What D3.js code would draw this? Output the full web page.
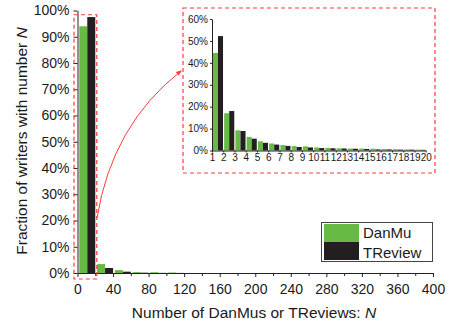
<!DOCTYPE html>
<html>
<head>
<meta charset="utf-8">
<script src="https://cdn.jsdelivr.net/npm/d3@7"></script>
<style>
  body { margin: 0; background: #fff; }
  svg { display: block; font-family: "Liberation Sans", Arial, sans-serif; }
  .axis text { fill: #1a1a1a; }
  .axis path, .axis line { stroke: #222; }
</style>
</head>
<body>
<div id="chart"></div>
<script>
// main histogram: bins of width 20 (bin start values)
var mainBins = [0, 20, 40, 60, 80, 100, 120, 140, 160, 180, 200, 220, 240, 260, 280, 300, 320, 340, 360, 380];
var mainDanMu = [94.0, 3.4, 1.1, 0.35, 0.3, 0.2, 0, 0, 0, 0, 0, 0, 0, 0, 0, 0, 0, 0, 0, 0];
var mainTReview = [97.5, 1.9, 0.5, 0.12, 0.05, 0.03, 0, 0, 0, 0, 0, 0, 0, 0, 0, 0, 0, 0, 0, 0];

// inset: N = 1..19
var insetN = [1, 2, 3, 4, 5, 6, 7, 8, 9, 10, 11, 12, 13, 14, 15, 16, 17, 18, 19];
var insetDanMu = [44.5, 17.0, 9.2, 6.2, 4.2, 3.2, 2.5, 2.0, 1.9, 1.4, 1.2, 1.0, 0.9, 0.9, 0.8, 0.7, 0.6, 0.5, 0.4];
var insetTReview = [52.2, 18.0, 8.9, 5.4, 3.5, 2.7, 2.1, 1.6, 1.4, 1.1, 1.0, 0.9, 0.8, 0.7, 0.5, 0.5, 0.4, 0.4, 0.3];

var seriesNames = ["DanMu", "TReview"];
var colors = { DanMu: "#67bb45", TReview: "#231f20" };
var red = "#ff3b3b";

var width = 455, height = 327;

var svg = d3.select("#chart")
  .append("svg")
  .attr("width", width)
  .attr("height", height);

// ---------- main chart ----------
var x = d3.scaleLinear().domain([0, 400]).range([77.5, 433]);
var y = d3.scaleLinear().domain([0, 100]).range([273, 10.5]);

function pairs(starts, a, b, w) {
  var out = [];
  starts.forEach(function (s, i) {
    out.push({ start: s, w: w, key: "DanMu", v: a[i] });
    out.push({ start: s, w: w, key: "TReview", v: b[i] });
  });
  return out;
}

var mainData = pairs(mainBins, mainDanMu, mainTReview, 20);
var sub = d3.scaleBand().domain(seriesNames).range([0.1, 1.0]);

svg.append("g").selectAll("rect")
  .data(mainData.filter(function (d) { return d.v > 0; }))
  .join("rect")
  .attr("x", function (d) { return x(d.start) + sub(d.key) * (x(d.w) - x(0)); })
  .attr("width", function (d) { return sub.bandwidth() * (x(d.w) - x(0)); })
  .attr("y", function (d) { return y(d.v); })
  .attr("height", function (d) { return y(0) - y(d.v); })
  .attr("fill", function (d) { return colors[d.key]; });

// x axis: minor ticks every 20, labels every 40
svg.append("g")
  .attr("class", "axis")
  .attr("transform", "translate(0," + y(0) + ")")
  .call(d3.axisBottom(x).tickValues(d3.range(0, 401, 40)).tickSize(4).tickSizeOuter(0).tickPadding(7))
  .call(function (g) { g.selectAll("text").attr("font-size", 14); });

svg.append("g")
  .attr("class", "axis")
  .attr("transform", "translate(0," + y(0) + ")")
  .call(d3.axisBottom(x).tickValues(d3.range(20, 400, 40)).tickSize(3).tickSizeOuter(0).tickFormat(""))
  .call(function (g) { g.select(".domain").remove(); });

svg.append("g")
  .attr("class", "axis")
  .attr("transform", "translate(" + x(0) + ",0)")
  .call(d3.axisLeft(y).tickValues(d3.range(0, 101, 10)).tickSize(4).tickSizeOuter(0).tickPadding(4)
    .tickFormat(function (d) { return d + "%"; }))
  .call(function (g) { g.selectAll("text").attr("font-size", 14); });

// axis titles
var yTitle = svg.append("text")
  .attr("transform", "translate(27,141) rotate(-90)")
  .attr("text-anchor", "middle")
  .attr("font-size", 15.5)
  .attr("fill", "#1a1a1a");
yTitle.append("tspan").text("Fraction of writers with number ");
yTitle.append("tspan").attr("font-style", "italic").text("N");

var xTitle = svg.append("text")
  .attr("x", 254)
  .attr("y", 318)
  .attr("text-anchor", "middle")
  .attr("font-size", 15.5)
  .attr("fill", "#1a1a1a");
xTitle.append("tspan").text("Number of DanMus or TReviews: ");
xTitle.append("tspan").attr("font-style", "italic").text("N");

// dashed highlight around first bin
svg.append("rect")
  .attr("x", x(0) - 3.5)
  .attr("y", y(98) - 1)
  .attr("width", x(20) - x(0) + 5)
  .attr("height", y(0) - y(98) + 7)
  .attr("fill", "none")
  .attr("stroke", red)
  .attr("stroke-width", 1.2)
  .attr("stroke-dasharray", "4,3");

// ---------- inset ----------
var xi = d3.scaleLinear().domain([1, 20]).range([212, 425.7]);
var yi = d3.scaleLinear().domain([0, 60]).range([150.5, 19]);
var subI = d3.scaleBand().domain(seriesNames).range([0.08, 0.98]);
var insetData = pairs(insetN, insetDanMu, insetTReview, 1);

svg.append("rect")
  .attr("x", 183)
  .attr("y", 8)
  .attr("width", 252)
  .attr("height", 165)
  .attr("fill", "#fff")
  .attr("stroke", red)
  .attr("stroke-width", 1.2)
  .attr("stroke-dasharray", "4,3");

svg.append("g").selectAll("rect")
  .data(insetData)
  .join("rect")
  .attr("x", function (d) { return xi(d.start) + subI(d.key) * (xi(2) - xi(1)); })
  .attr("width", function (d) { return subI.bandwidth() * (xi(2) - xi(1)); })
  .attr("y", function (d) { return yi(d.v); })
  .attr("height", function (d) { return yi(0) - yi(d.v); })
  .attr("fill", function (d) { return colors[d.key]; });

svg.append("g")
  .attr("class", "axis")
  .attr("transform", "translate(0," + yi(0) + ")")
  .call(d3.axisBottom(xi).tickValues(d3.range(1, 21)).tickSize(2).tickSizeOuter(0).tickPadding(1))
  .call(function (g) { g.selectAll("text").attr("font-size", 10).attr("fill", "#333"); });

svg.append("g")
  .attr("class", "axis")
  .attr("transform", "translate(" + xi(1) + ",0)")
  .call(d3.axisLeft(yi).tickValues(d3.range(0, 61, 10)).tickSize(2).tickSizeOuter(0).tickPadding(2)
    .tickFormat(function (d) { return d + "%"; }))
  .call(function (g) { g.selectAll("text").attr("font-size", 10).attr("fill", "#333"); });

// ---------- arrow ----------
svg.append("defs").append("marker")
  .attr("id", "arrow")
  .attr("viewBox", "0 0 10 10")
  .attr("refX", 8)
  .attr("refY", 5)
  .attr("markerWidth", 6)
  .attr("markerHeight", 6)
  .attr("orient", "auto")
  .append("path")
  .attr("d", "M0,1L10,5L0,9Z")
  .attr("fill", red);

svg.append("path")
  .attr("d", "M97,218 Q112,125 181,71")
  .attr("fill", "none")
  .attr("stroke", red)
  .attr("stroke-width", 1)
  .attr("marker-end", "url(#arrow)");

// ---------- legend ----------
var legend = svg.append("g");
legend.append("rect")
  .attr("x", 321.5).attr("y", 222.5)
  .attr("width", 111).attr("height", 39)
  .attr("fill", "#fff")
  .attr("stroke", "#444")
  .attr("stroke-width", 1);

seriesNames.forEach(function (s, i) {
  legend.append("rect")
    .attr("x", 324).attr("y", 224 + i * 18)
    .attr("width", 35).attr("height", 18)
    .attr("fill", colors[s]);
  legend.append("text")
    .attr("x", 363).attr("y", 238 + i * 20)
    .attr("font-size", 15)
    .attr("fill", "#1a1a1a")
    .text(s);
});
</script>
</body>
</html>
